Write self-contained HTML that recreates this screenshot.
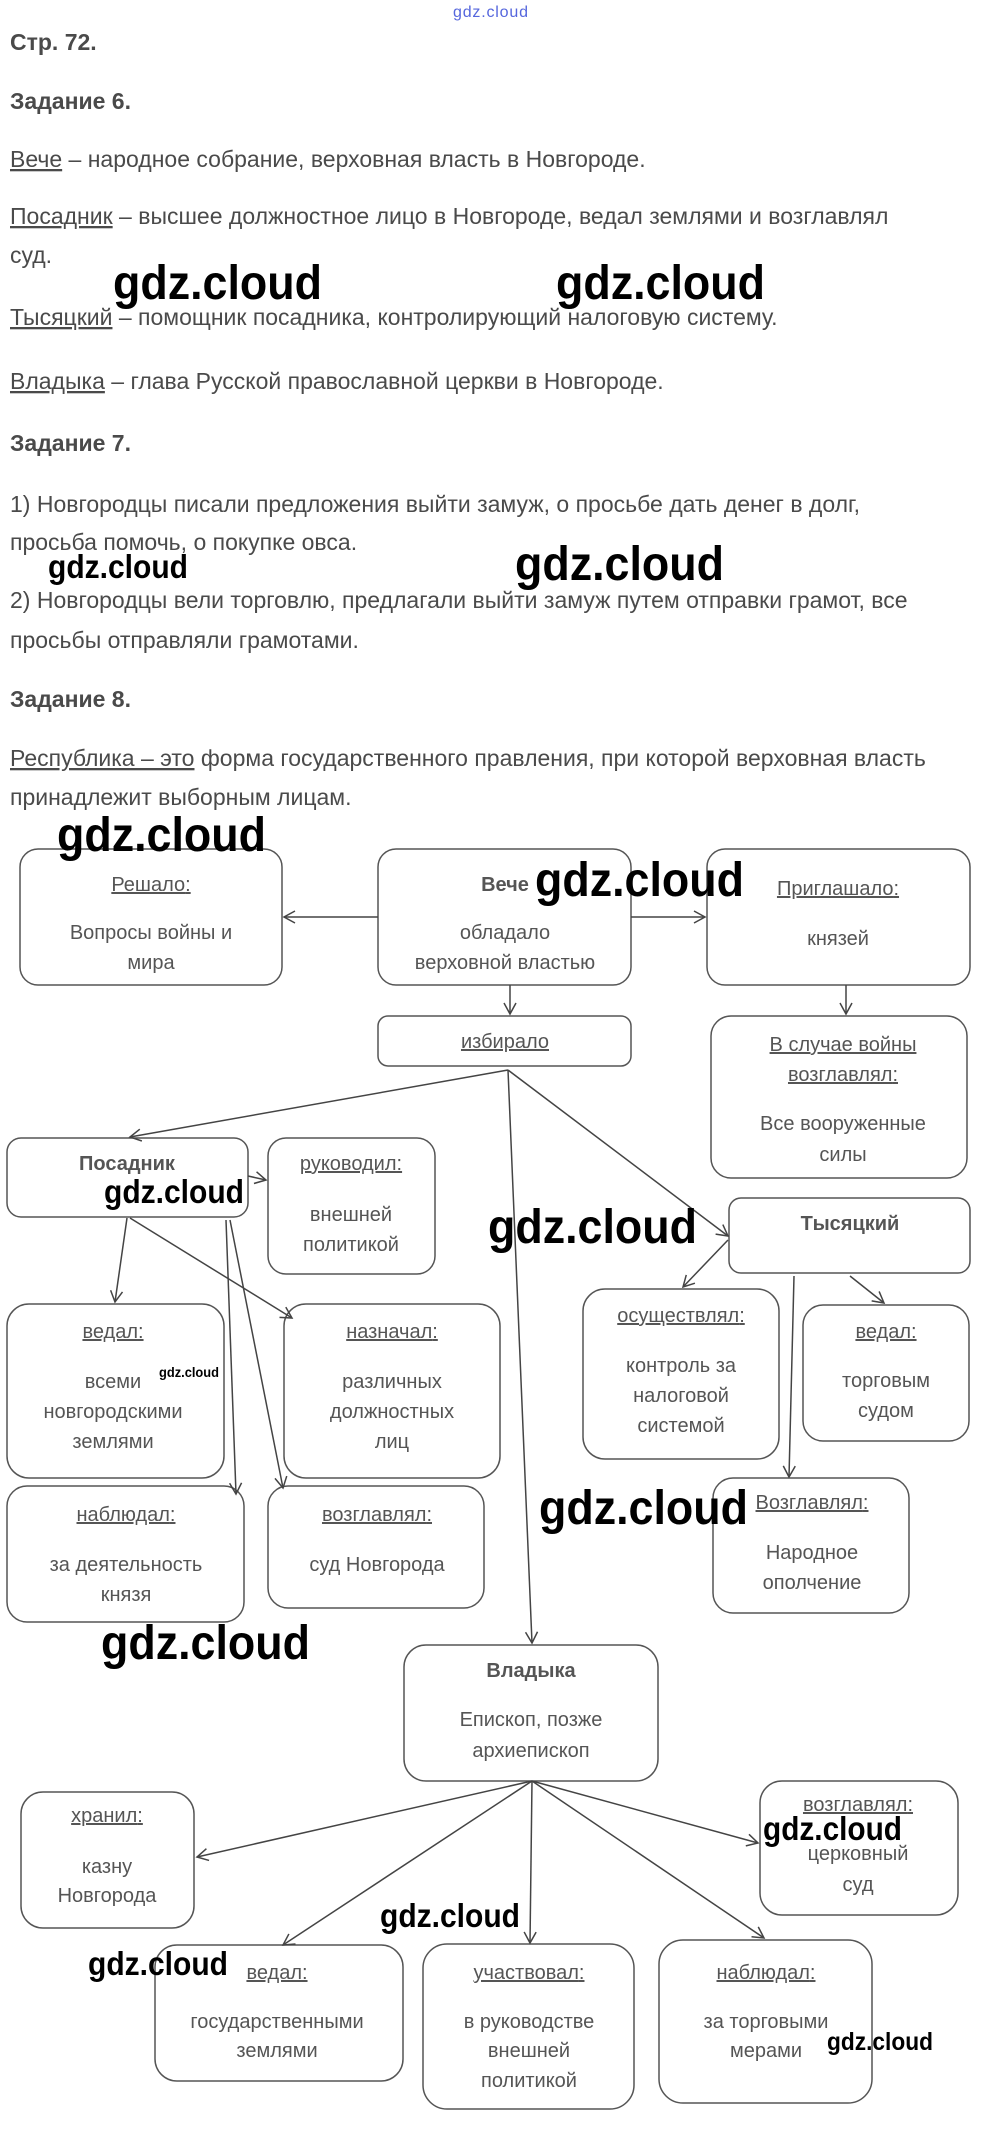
<!DOCTYPE html>
<html><head><meta charset="utf-8"><style>
html,body{margin:0;padding:0;background:#fff;}
svg{display:block;}
.b{font-family:"Liberation Sans","Noto Sans CJK SC",sans-serif;font-size:23px;fill:#4a4a4a;}
.h{font-weight:bold;}
.d{font-family:"Liberation Sans","Noto Sans CJK SC",sans-serif;font-size:20px;fill:#555;text-anchor:middle;}
.u{text-decoration:underline;}
.w{font-family:"Liberation Sans",sans-serif;font-weight:bold;fill:#000;}
rect{fill:none;stroke:#555;stroke-width:1.5;}
.l{stroke:#444;stroke-width:1.5;fill:none;}
</style></head><body>
<svg width="982" height="2130" viewBox="0 0 982 2130" xmlns="http://www.w3.org/2000/svg">
<defs><marker id="a" markerWidth="14" markerHeight="14" refX="12" refY="7" orient="auto" markerUnits="userSpaceOnUse"><path d="M1,1 L12,7 L1,13" fill="none" stroke="#444" stroke-width="1.5"/></marker></defs>
<text x="453" y="17" font-family="Liberation Sans,sans-serif" font-size="16" fill="#5566dd" textLength="75">gdz.cloud</text>

<text class="b h" x="10" y="50">Стр. 72.</text>
<text class="b h" x="10" y="109">Задание 6.</text>
<text class="b" x="10" y="167"><tspan class="u">Вече</tspan> – народное собрание, верховная власть в Новгороде.</text>
<text class="b" x="10" y="224"><tspan class="u">Посадник</tspan> – высшее должностное лицо в Новгороде, ведал землями и возглавлял</text>
<text class="b" x="10" y="263">суд.</text>
<text class="b" x="10" y="325"><tspan class="u">Тысяцкий</tspan> – помощник посадника, контролирующий налоговую систему.</text>
<text class="b" x="10" y="389"><tspan class="u">Владыка</tspan> – глава Русской православной церкви в Новгороде.</text>
<text class="b h" x="10" y="451">Задание 7.</text>
<text class="b" x="10" y="512">1) Новгородцы писали предложения выйти замуж, о просьбе дать денег в долг,</text>
<text class="b" x="10" y="550">просьба помочь, о покупке овса.</text>
<text class="b" x="10" y="608">2) Новгородцы вели торговлю, предлагали выйти замуж путем отправки грамот, все</text>
<text class="b" x="10" y="648">просьбы отправляли грамотами.</text>
<text class="b h" x="10" y="707">Задание 8.</text>
<text class="b" x="10" y="766"><tspan class="u">Республика – это</tspan> форма государственного правления, при которой верховная власть</text>
<text class="b" x="10" y="805">принадлежит выборным лицам.</text>

<!-- boxes -->
<rect x="20" y="849" width="262" height="136" rx="18"/>
<rect x="378" y="849" width="253" height="136" rx="18"/>
<rect x="707" y="849" width="263" height="136" rx="18"/>
<rect x="378" y="1016" width="253" height="50" rx="10"/>
<rect x="711" y="1016" width="256" height="162" rx="20"/>
<rect x="7" y="1138" width="241" height="79" rx="14"/>
<rect x="268" y="1138" width="167" height="136" rx="18"/>
<rect x="729" y="1198" width="241" height="75" rx="12"/>
<rect x="7" y="1304" width="217" height="174" rx="22"/>
<rect x="284" y="1304" width="216" height="174" rx="22"/>
<rect x="583" y="1289" width="196" height="170" rx="22"/>
<rect x="803" y="1305" width="166" height="136" rx="20"/>
<rect x="7" y="1486" width="237" height="136" rx="20"/>
<rect x="268" y="1486" width="216" height="122" rx="20"/>
<rect x="713" y="1478" width="196" height="135" rx="20"/>
<rect x="404" y="1645" width="254" height="136" rx="22"/>
<rect x="21" y="1792" width="173" height="136" rx="22"/>
<rect x="760" y="1781" width="198" height="134" rx="22"/>
<rect x="155" y="1945" width="248" height="136" rx="22"/>
<rect x="423" y="1944" width="211" height="165" rx="24"/>
<rect x="659" y="1940" width="213" height="163" rx="24"/>

<!-- arrows -->
<g class="l" marker-end="url(#a)">
<line x1="378" y1="917" x2="284" y2="917"/>
<line x1="631" y1="917" x2="705" y2="917"/>
<line x1="510" y1="985" x2="510" y2="1014"/>
<line x1="846" y1="985" x2="846" y2="1014"/>
<line x1="508" y1="1070" x2="130" y2="1137"/>
<line x1="508" y1="1070" x2="532" y2="1643"/>
<line x1="508" y1="1070" x2="728" y2="1236"/>
<line x1="248" y1="1176" x2="266" y2="1180"/>
<line x1="127" y1="1218" x2="115" y2="1302"/>
<line x1="130" y1="1218" x2="292" y2="1318"/>
<line x1="226" y1="1220" x2="236" y2="1494"/>
<line x1="230" y1="1220" x2="283" y2="1488"/>
<line x1="728" y1="1240" x2="683" y2="1287"/>
<line x1="850" y1="1276" x2="884" y2="1303"/>
<line x1="794" y1="1276" x2="789" y2="1477"/>
<line x1="532" y1="1781" x2="197" y2="1857"/>
<line x1="532" y1="1781" x2="283" y2="1945"/>
<line x1="532" y1="1781" x2="530" y2="1943"/>
<line x1="532" y1="1781" x2="764" y2="1938"/>
<line x1="532" y1="1781" x2="758" y2="1843"/>
</g>

<!-- diagram text -->
<text class="d u" x="151" y="891">Решало<tspan style="text-decoration:none">:</tspan></text>
<text class="d" x="151" y="939">Вопросы войны и</text>
<text class="d" x="151" y="969">мира</text>
<text class="d h" x="505" y="891">Вече</text>
<text class="d" x="505" y="939">обладало</text>
<text class="d" x="505" y="969">верховной властью</text>
<text class="d u" x="838" y="895">Приглашало<tspan style="text-decoration:none">:</tspan></text>
<text class="d" x="838" y="945">князей</text>
<text class="d u" x="505" y="1048">избирало</text>
<text class="d u" x="843" y="1051">В случае войны</text>
<text class="d u" x="843" y="1081">возглавлял<tspan style="text-decoration:none">:</tspan></text>
<text class="d" x="843" y="1130">Все вооруженные</text>
<text class="d" x="843" y="1161">силы</text>
<text class="d h" x="127" y="1170">Посадник</text>
<text class="d u" x="351" y="1170">руководил<tspan style="text-decoration:none">:</tspan></text>
<text class="d" x="351" y="1221">внешней</text>
<text class="d" x="351" y="1251">политикой</text>
<text class="d h" x="850" y="1230">Тысяцкий</text>
<text class="d u" x="113" y="1338">ведал<tspan style="text-decoration:none">:</tspan></text>
<text class="d" x="113" y="1388">всеми</text>
<text class="d" x="113" y="1418">новгородскими</text>
<text class="d" x="113" y="1448">землями</text>
<text class="d u" x="392" y="1338">назначал<tspan style="text-decoration:none">:</tspan></text>
<text class="d" x="392" y="1388">различных</text>
<text class="d" x="392" y="1418">должностных</text>
<text class="d" x="392" y="1448">лиц</text>
<text class="d u" x="681" y="1322">осуществлял<tspan style="text-decoration:none">:</tspan></text>
<text class="d" x="681" y="1372">контроль за</text>
<text class="d" x="681" y="1402">налоговой</text>
<text class="d" x="681" y="1432">системой</text>
<text class="d u" x="886" y="1338">ведал<tspan style="text-decoration:none">:</tspan></text>
<text class="d" x="886" y="1387">торговым</text>
<text class="d" x="886" y="1417">судом</text>
<text class="d u" x="126" y="1521">наблюдал<tspan style="text-decoration:none">:</tspan></text>
<text class="d" x="126" y="1571">за деятельность</text>
<text class="d" x="126" y="1601">князя</text>
<text class="d u" x="377" y="1521">возглавлял<tspan style="text-decoration:none">:</tspan></text>
<text class="d" x="377" y="1571">суд Новгорода</text>
<text class="d u" x="812" y="1509">Возглавлял<tspan style="text-decoration:none">:</tspan></text>
<text class="d" x="812" y="1559">Народное</text>
<text class="d" x="812" y="1589">ополчение</text>
<text class="d h" x="531" y="1677">Владыка</text>
<text class="d" x="531" y="1726">Епископ, позже</text>
<text class="d" x="531" y="1757">архиепископ</text>
<text class="d u" x="107" y="1822">хранил<tspan style="text-decoration:none">:</tspan></text>
<text class="d" x="107" y="1873">казну</text>
<text class="d" x="107" y="1902">Новгорода</text>
<text class="d u" x="858" y="1811">возглавлял<tspan style="text-decoration:none">:</tspan></text>
<text class="d" x="858" y="1860">церковный</text>
<text class="d" x="858" y="1891">суд</text>
<text class="d u" x="277" y="1979">ведал<tspan style="text-decoration:none">:</tspan></text>
<text class="d" x="277" y="2028">государственными</text>
<text class="d" x="277" y="2057">землями</text>
<text class="d u" x="529" y="1979">участвовал<tspan style="text-decoration:none">:</tspan></text>
<text class="d" x="529" y="2028">в руководстве</text>
<text class="d" x="529" y="2057">внешней</text>
<text class="d" x="529" y="2087">политикой</text>
<text class="d u" x="766" y="1979">наблюдал<tspan style="text-decoration:none">:</tspan></text>
<text class="d" x="766" y="2028">за торговыми</text>
<text class="d" x="766" y="2057">мерами</text>

<!-- watermarks -->
<g class="w">
<text x="113" y="299" font-size="48" textLength="209" lengthAdjust="spacingAndGlyphs">gdz.cloud</text>
<text x="556" y="299" font-size="48" textLength="209" lengthAdjust="spacingAndGlyphs">gdz.cloud</text>
<text x="48" y="578" font-size="33" textLength="140" lengthAdjust="spacingAndGlyphs">gdz.cloud</text>
<text x="515" y="580" font-size="48" textLength="209" lengthAdjust="spacingAndGlyphs">gdz.cloud</text>
<text x="57" y="851" font-size="48" textLength="209" lengthAdjust="spacingAndGlyphs">gdz.cloud</text>
<text x="535" y="896" font-size="48" textLength="209" lengthAdjust="spacingAndGlyphs">gdz.cloud</text>
<text x="104" y="1203" font-size="33" textLength="140" lengthAdjust="spacingAndGlyphs">gdz.cloud</text>
<text x="488" y="1243" font-size="48" textLength="209" lengthAdjust="spacingAndGlyphs">gdz.cloud</text>
<text x="159" y="1377" font-size="14" textLength="60" lengthAdjust="spacingAndGlyphs">gdz.cloud</text>
<text x="539" y="1524" font-size="48" textLength="209" lengthAdjust="spacingAndGlyphs">gdz.cloud</text>
<text x="101" y="1659" font-size="48" textLength="209" lengthAdjust="spacingAndGlyphs">gdz.cloud</text>
<text x="380" y="1927" font-size="33" textLength="140" lengthAdjust="spacingAndGlyphs">gdz.cloud</text>
<text x="763" y="1840" font-size="33" textLength="139" lengthAdjust="spacingAndGlyphs">gdz.cloud</text>
<text x="88" y="1975" font-size="33" textLength="140" lengthAdjust="spacingAndGlyphs">gdz.cloud</text>
<text x="827" y="2050" font-size="25" textLength="106" lengthAdjust="spacingAndGlyphs">gdz.cloud</text>
</g>
</svg>
</body></html>
